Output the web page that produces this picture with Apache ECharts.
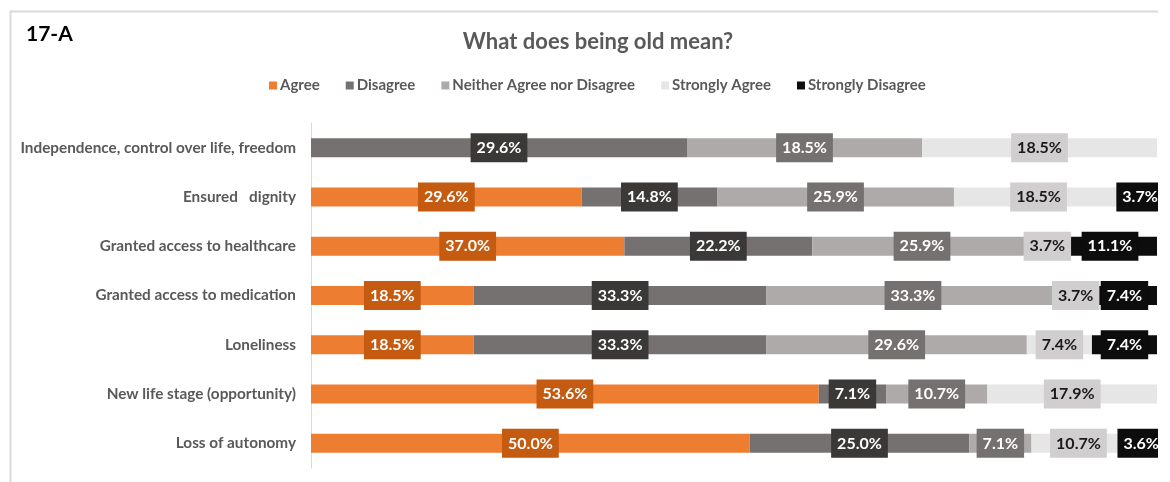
<!DOCTYPE html>
<html>
<head>
<meta charset="utf-8">
<script src="https://cdn.jsdelivr.net/npm/echarts@6/dist/echarts.min.js"></script>
<style>
html,body{margin:0;padding:0;background:#fff;}
#wrap{position:absolute;left:0;top:0;width:1158px;height:482px;overflow:hidden;}
#chart{width:1158px;height:482px;}
</style>
</head>
<body>
<div id="wrap"><div id="chart"></div></div>
<script>
var categories = [
  'Independence, control over life, freedom',
  'Ensured   dignity',
  'Granted access to healthcare',
  'Granted access to medication',
  'Loneliness',
  'New life stage (opportunity)',
  'Loss of autonomy'
];
var seriesNames = ['Agree', 'Disagree', 'Neither Agree nor Disagree', 'Strongly Agree', 'Strongly Disagree'];
var agree            = [null, 29.6, 37.0, 18.5, 18.5, 53.6, 50.0];
var disagree         = [29.6, 14.8, 22.2, 33.3, 33.3, 7.1, 25.0];
var neither          = [18.5, 25.9, 25.9, 33.3, 29.6, 10.7, 7.1];
var stronglyAgree    = [18.5, 18.5, 3.7, 3.7, 7.4, 17.9, 10.7];
var stronglyDisagree = [null, 3.7, 11.1, 7.4, 7.4, null, 3.6];

var raw = [agree, disagree, neither, stronglyAgree, stronglyDisagree];
var barColors   = ['#ED7D31', '#767171', '#AEAAAA', '#E7E6E6', '#0D0D0D'];
var labelBg     = ['#C55A11', '#3B3838', '#767171', '#D0CECE', '#0D0D0D'];
var labelColor  = ['#ffffff', '#ffffff', '#ffffff', '#1a1a1a', '#ffffff'];

var totals = categories.map(function (c, i) {
  var s = 0;
  raw.forEach(function (arr) { if (arr[i] != null) s += arr[i]; });
  return s;
});

var FONT = 'Lato';

var series = raw.map(function (arr, k) {
  return {
    name: seriesNames[k],
    type: 'bar',
    stack: 'total',
    barWidth: 19,
    itemStyle: { color: barColors[k] },
    emphasis: { disabled: true },
    data: arr.map(function (v, i) { return v == null ? null : v / totals[i] * 100; }),
    label: {
      show: true,
      position: 'inside',
      formatter: function (p) { var v = arr[p.dataIndex]; return v == null ? '' : v.toFixed(1) + '%'; },
      backgroundColor: labelBg[k],
      color: labelColor[k],
      fontFamily: FONT,
      fontWeight: 'bold',
      fontSize: 16,
      padding: [6, 5, 5, 5],
      borderColor: labelBg[k],
      borderWidth: 1
    }
  };
});

var chart = echarts.init(document.getElementById('chart'), null, { renderer: 'canvas' });
chart.setOption({
  animation: false,
  backgroundColor: '#ffffff',
  color: barColors,
  title: [
    { text: 'What does being old mean?', left: 593, top: 26, textAlign: 'center',
      textStyle: { fontFamily: FONT, fontWeight: 'bold', fontSize: 22, color: '#595959' } },
    { text: '17-A', left: 21, top: 19,
      textStyle: { fontFamily: FONT, fontWeight: 'bold', fontSize: 21, color: '#000000' } }
  ],
  legend: {
    top: 73, left: 264,
    itemWidth: 8, itemHeight: 8, itemGap: 26,
    icon: 'rect',
    textStyle: { fontFamily: FONT, fontWeight: 'bold', fontSize: 15, color: '#595959', padding: [0, 0, 0, -2] },
    data: seriesNames
  },
  graphic: [
    { type: 'rect', left: 8, top: 9, shape: { x: 0, y: 0, width: 1400, height: 600 },
      style: { fill: 'none', stroke: '#D9D9D9', lineWidth: 2 }, silent: true, z: -1 }
  ],
  grid: { left: 311, top: 123, width: 846, bottom: 14 },
  xAxis: { type: 'value', min: 0, max: 100, show: false },
  yAxis: {
    type: 'category',
    inverse: true,
    data: categories,
    axisTick: { show: false },
    axisLine: { show: true, lineStyle: { color: '#D9D9D9', width: 1 } },
    axisLabel: { fontFamily: FONT, fontWeight: 'bold', fontSize: 15.3, color: '#595959', margin: 15 }
  },
  series: series
});
</script>
</body>
</html>
